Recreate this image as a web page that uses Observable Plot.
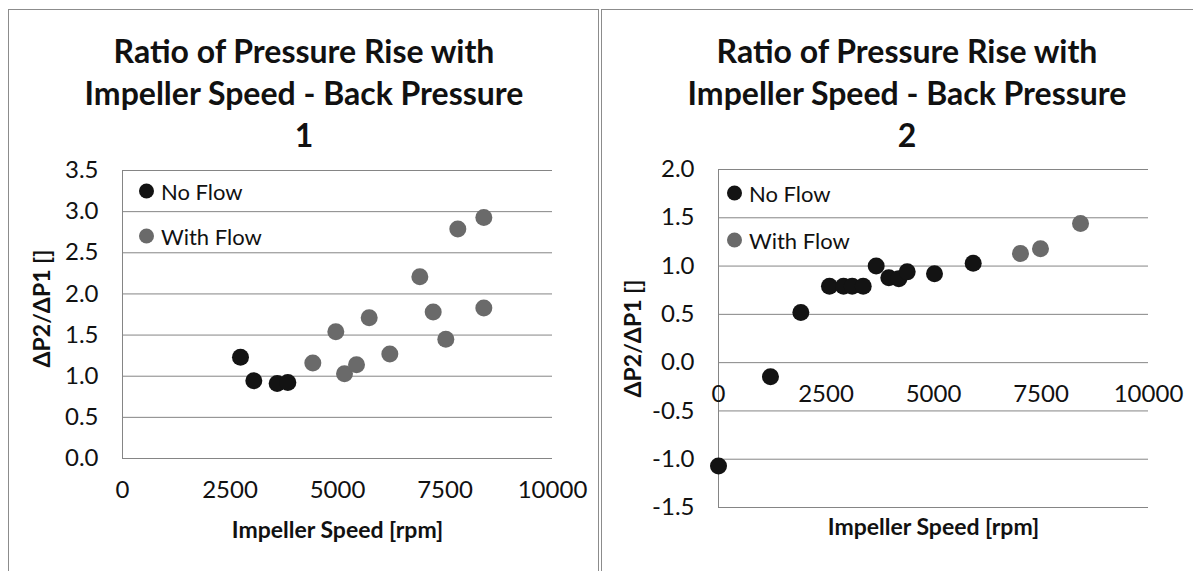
<!DOCTYPE html>
<html><head><meta charset="utf-8">
<script src="https://cdn.jsdelivr.net/npm/d3@7"></script>
<script src="https://cdn.jsdelivr.net/npm/@observablehq/plot@0.6"></script>
<style>
body{margin:0;background:#fff;width:1193px;height:571px;overflow:hidden;position:relative;font-family:Lato, sans-serif;color:#111;}
.panel{position:absolute;border:1.5px solid #8c8c8c;box-sizing:border-box;}
.title{position:absolute;text-align:center;font-weight:bold;font-size:32px;line-height:42px;color:#111;white-space:nowrap;}
.chart{position:absolute;top:0;}
.item{position:absolute;white-space:nowrap;display:flex;align-items:center;font-size:22px;transform:translateY(-50%);}
.sw{display:inline-block;width:15px;height:15px;border-radius:50%;margin-right:7px;}
</style></head><body>
<div class="panel" style="left:8px;top:9px;width:591px;height:620px"></div>
<div class="panel" style="left:601px;top:9px;width:640px;height:620px"></div>
<div id="t1" class="title" style="left:10px;top:30px;width:588px"></div>
<div id="t2" class="title" style="left:602px;top:30px;width:610px"></div>
<div id="c1" class="chart" style="left:0px"></div>
<div id="c2" class="chart" style="left:600px"></div>
<div id="l1"></div>
<div id="l2"></div>
<script>
// ---- data ----
const titleLines1 = ["Ratio of Pressure Rise with", "Impeller Speed - Back Pressure", "1"];
const titleLines2 = ["Ratio of Pressure Rise with", "Impeller Speed - Back Pressure", "2"];
const seriesNames = ["No Flow", "With Flow"];
const seriesColors = ["#131313", "#6a6a6a"];
const xLabel = "Impeller Speed [rpm]";
const yLabel = "ΔP2/ΔP1 []";
const xTicks = [0, 2500, 5000, 7500, 10000];
const yTicks1 = [0, 0.5, 1.0, 1.5, 2.0, 2.5, 3.0, 3.5];
const yTicks2 = [-1.5, -1.0, -0.5, 0, 0.5, 1.0, 1.5, 2.0];

const c1NoFlowSpeed = [2744, 3054, 3597, 3845];
const c1NoFlowRatio = [1.23, 0.945, 0.912, 0.925];
const c1WithFlowSpeed = [4426, 4961, 5163, 5442, 5737, 6217, 6915, 7225, 7519, 7798, 8403, 8403];
const c1WithFlowRatio = [1.16, 1.54, 1.03, 1.14, 1.71, 1.27, 2.21, 1.78, 1.45, 2.79, 2.93, 1.83];

const c2NoFlowSpeed = [0, 1209, 1915, 2581, 2907, 3109, 3365, 3667, 3961, 4194, 4388, 5023, 5923];
const c2NoFlowRatio = [-1.07, -0.145, 0.52, 0.79, 0.79, 0.79, 0.79, 1.0, 0.88, 0.87, 0.94, 0.92, 1.03];
const c2WithFlowSpeed = [7023, 7488, 8419];
const c2WithFlowRatio = [1.13, 1.18, 1.44];

// ---- build tables ----
function table(speeds, ratios, s) { return speeds.map((v, i) => ({speed: v, ratio: ratios[i], series: s})); }
const data1 = [...table(c1NoFlowSpeed, c1NoFlowRatio, seriesNames[0]), ...table(c1WithFlowSpeed, c1WithFlowRatio, seriesNames[1])];
const data2 = [...table(c2NoFlowSpeed, c2NoFlowRatio, seriesNames[0]), ...table(c2WithFlowSpeed, c2WithFlowRatio, seriesNames[1])];

document.getElementById("t1").innerHTML = titleLines1.join("<br>");
document.getElementById("t2").innerHTML = titleLines2.join("<br>");

const gridColor = "#858585";
const baseStyle = {fontFamily: "Lato, sans-serif", fontSize: "24px", color: "#111", background: "transparent", overflow: "visible"};
const colorScale = {domain: seriesNames, range: seriesColors};

const p1 = Plot.plot({
  width: 598, height: 571,
  marginLeft: 122, marginRight: 46, marginTop: 170, marginBottom: 113,
  x: {domain: [0, 10000]},
  y: {domain: [0, 3.5]},
  color: colorScale,
  style: baseStyle,
  marks: [
    Plot.ruleY(yTicks1, {stroke: gridColor, strokeWidth: 1}),
    Plot.ruleX([0], {stroke: gridColor, strokeWidth: 1}),
    Plot.axisY(yTicks1, {tickSize: 0, tickPadding: 24, tickFormat: d => d.toFixed(1), label: null, fontSize: 24}),
    Plot.axisX(xTicks, {tickSize: 0, tickPadding: 22, tickFormat: d => String(d), label: null, fontSize: 24}),
    Plot.text([yLabel], {frameAnchor: "left", textAnchor: "middle", lineAnchor: "middle", rotate: -90, dx: -80, dy: -6, fontWeight: "bold", fontSize: 23}),
    Plot.text([xLabel], {frameAnchor: "bottom", textAnchor: "middle", lineAnchor: "middle", dy: 72, fontWeight: "bold", fontSize: 23}),
    Plot.dot(data1, {x: "speed", y: "ratio", r: 8.5, fill: "series"})
  ]
});
document.getElementById("c1").appendChild(p1);

const p2 = Plot.plot({
  width: 593, height: 571,
  marginLeft: 118, marginRight: 45, marginTop: 169, marginBottom: 64,
  x: {domain: [0, 10000], axis: null},
  y: {domain: [-1.5, 2.0]},
  color: colorScale,
  style: baseStyle,
  marks: [
    Plot.ruleY(yTicks2, {stroke: gridColor, strokeWidth: 1}),
    Plot.ruleX([0], {stroke: gridColor, strokeWidth: 1}),
    Plot.axisY(yTicks2, {tickSize: 0, tickPadding: 24, tickFormat: d => d.toFixed(1), label: null, fontSize: 24}),
    Plot.text(xTicks, {x: d => d, y: 0, text: d => String(d), dy: 32, fontSize: 24}),
    Plot.text([yLabel], {frameAnchor: "left", textAnchor: "middle", lineAnchor: "middle", rotate: -90, dx: -85, fontWeight: "bold", fontSize: 23}),
    Plot.text([xLabel], {frameAnchor: "bottom", textAnchor: "middle", lineAnchor: "middle", dy: 20, fontWeight: "bold", fontSize: 23}),
    Plot.dot(data2, {x: "speed", y: "ratio", r: 8.5, fill: "series"})
  ]
});
document.getElementById("c2").appendChild(p2);

// legends (HTML overlays)
function legend(id, left, tops) {
  const el = document.getElementById(id);
  seriesNames.forEach((name, i) => {
    const it = document.createElement("div");
    it.className = "item";
    it.style.left = left + "px";
    it.style.top = tops[i] + "px";
    it.innerHTML = `<span class="sw" style="background:${seriesColors[i]}"></span>${name}`;
    el.appendChild(it);
  });
}
legend("l1", 139, [191, 236]);
legend("l2", 727, [193, 240]);
</script>
</body></html>
